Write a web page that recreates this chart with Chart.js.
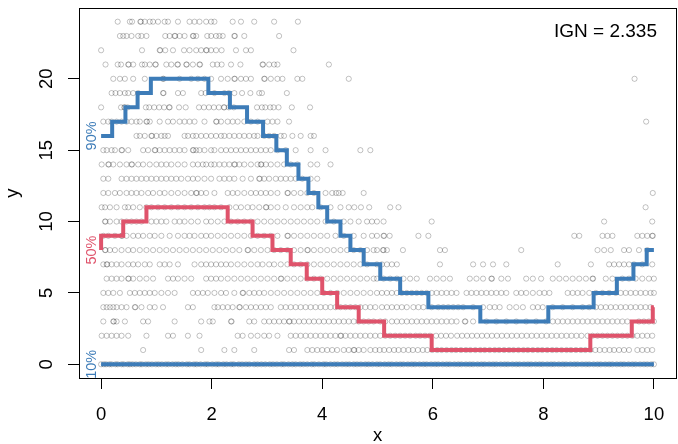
<!DOCTYPE html>
<html>
<head>
<meta charset="utf-8">
<script src="https://cdn.jsdelivr.net/npm/chart.js"></script>
<style>
  html, body { margin: 0; padding: 0; background: #fff; overflow: hidden; }
  #wrap { width: 681px; height: 444px; }
</style>
</head>
<body>
<div id="wrap"><canvas id="quantChart" width="681" height="444"></canvas></div>
<script>
// axis ticks
const xTicks = [0, 2, 4, 6, 8, 10];
const yTicks = [0, 5, 10, 15, 20];

// quantile step lines: x where each new level starts, and that level
const q90Breaks = [0, 0.2, 0.44, 0.66, 0.9, 1.94, 2.33, 2.64, 2.93, 3.17, 3.36, 3.57, 3.75, 3.93, 4.09, 4.33, 4.51, 4.75, 5.05, 5.41, 5.92, 6.86, 8.09, 8.91, 9.33, 9.63, 9.87, 10];
const q90Values = [16, 17, 18, 19, 20, 19, 18, 17, 16, 15, 14, 13, 12, 11, 10, 9, 8, 7, 6, 5, 4, 3, 4, 5, 6, 7, 8, 8];
const q50Breaks = [0, 0, 0.40, 0.82, 2.29, 2.74, 3.10, 3.43, 3.72, 4.00, 4.27, 4.66, 5.12, 5.98, 8.85, 9.60, 9.98, 10];
const q50Values = [8, 9, 10, 11, 10, 9, 8, 7, 6, 5, 4, 3, 2, 1, 2, 3, 4, 4];
const q10Breaks = [0, 10];
const q10Values = [0, 0];

const quantLabels = ['90%', '50%', '10%'];
const scoreText = 'IGN = 2.335';

// observations: x positions of the points at each count y = 0..24
const x0 = [0.00,0.05,0.09,0.15,0.19,0.26,0.30,0.37,0.41,0.48,0.52,0.57,0.63,0.70,0.74,0.81,0.86,0.92,0.99,1.04,1.10,1.17,1.22,1.29,1.35,1.40,1.47,1.55,1.60,1.68,1.73,1.80,1.88,1.93,2.01,2.08,2.13,2.21,2.27,2.35,2.40,2.49,2.55,2.62,2.68,2.77,2.83,2.90,2.97,3.05,3.11,3.18,3.26,3.31,3.39,3.46,3.52,3.60,3.66,3.73,3.81,3.86,3.94,4.02,4.07,4.15,4.22,4.28,4.36,4.43,4.49,4.57,4.63,4.70,4.78,4.84,4.91,4.99,5.05,5.13,5.20,5.26,5.34,5.41,5.47,5.55,5.62,5.68,5.76,5.83,5.89,5.97,6.04,6.10,6.18,6.25,6.31,6.39,6.46,6.52,6.60,6.67,6.73,6.81,6.88,6.94,7.02,7.09,7.15,7.23,7.30,7.36,7.44,7.51,7.57,7.65,7.72,7.78,7.86,7.93,7.99,8.07,8.14,8.20,8.28,8.35,8.41,8.49,8.56,8.62,8.70,8.77,8.83,8.91,8.98,9.04,9.12,9.19,9.25,9.33,9.40,9.46,9.54,9.61,9.67,9.75,9.82,9.88,9.95,10.00];
const x1 = [0.76,1.81,2.23,2.41,2.77,3.40,3.49,3.73,3.82,3.91,4.00,4.09,4.18,4.27,4.39,4.48,4.57,4.58,4.66,4.75,4.87,4.96,5.04,5.12,5.21,5.30,5.38,5.47,5.56,5.64,5.73,5.82,5.90,5.99,6.08,6.16,6.25,6.34,6.42,6.51,6.60,6.68,6.77,6.86,6.94,7.03,7.12,7.20,7.29,7.38,7.46,7.55,7.64,7.72,7.81,7.90,7.98,8.07,8.16,8.24,8.33,8.42,8.50,8.59,8.68,8.76,8.85,8.94,9.02,9.11,9.20,9.28,9.37,9.46,9.55,9.70,9.79,9.88,9.97];
const x2 = [0.01,0.10,0.19,0.28,0.37,0.49,0.82,1.21,1.30,1.57,1.78,2.47,2.56,2.71,2.83,2.95,3.04,3.19,3.43,3.52,3.61,3.70,3.79,3.88,3.97,4.06,4.15,4.24,4.33,4.34,4.42,4.51,4.60,4.69,4.78,4.87,4.96,5.05,5.14,5.23,5.32,5.41,5.50,5.59,5.69,5.77,5.86,5.95,6.06,6.15,6.24,6.33,6.44,6.53,6.62,6.71,6.80,6.89,6.98,7.07,7.16,7.25,7.34,7.43,7.52,7.61,7.70,7.79,7.88,7.97,8.06,8.15,8.24,8.33,8.42,8.51,8.60,8.69,8.80,8.89,8.98,9.07,9.16,9.25,9.34,9.43,9.52,9.61,9.70,9.79,9.88,9.97];
const x3 = [0.04,0.22,0.23,0.28,0.43,0.76,0.85,1.33,1.81,1.96,2.02,2.35,2.36,2.68,2.77,2.95,3.04,3.13,3.22,3.31,3.40,3.41,3.49,3.58,3.67,3.76,3.85,3.94,4.03,4.12,4.21,4.30,4.39,4.48,4.57,4.66,4.75,4.84,4.93,5.05,5.14,5.26,5.35,5.44,5.53,5.62,5.71,5.80,5.89,5.98,6.07,6.16,6.25,6.34,6.43,6.58,6.59,6.73,6.97,7.15,7.33,7.51,7.69,7.87,8.05,8.17,8.26,8.35,8.44,8.53,8.62,8.71,8.80,8.89,8.98,9.07,9.16,9.25,9.34,9.43,9.52,9.73,9.82,9.91,10.00];
const x4 = [0.04,0.10,0.16,0.22,0.28,0.37,0.46,0.61,0.62,0.73,0.88,0.97,1.12,1.57,1.66,2.05,2.11,2.20,2.29,2.38,2.50,2.51,2.62,2.71,2.80,2.89,2.98,3.07,3.25,3.34,3.43,3.52,3.61,3.70,3.79,3.88,3.97,4.06,4.15,4.24,4.33,4.42,4.51,4.60,4.69,4.78,4.87,4.96,5.08,5.17,5.26,5.35,5.44,5.53,5.65,5.74,5.83,5.98,6.10,6.19,6.28,6.37,6.46,6.55,6.73,6.91,7.03,7.12,7.21,7.39,7.51,7.63,7.81,7.90,7.99,8.17,8.35,8.53,8.71,8.83,8.95,9.04,9.13,9.22,9.31,9.40,9.49,9.58,9.67,9.76,9.85,9.94];
const x5 = [0.04,0.13,0.22,0.34,0.52,0.61,0.70,0.79,0.88,0.97,1.09,1.21,1.33,1.66,1.75,1.84,1.93,2.05,2.17,2.26,2.41,2.56,2.57,2.68,2.77,2.86,2.95,3.07,3.19,3.31,3.43,3.55,3.67,3.79,3.91,4.03,4.15,4.27,4.39,4.51,4.63,4.75,4.87,4.99,5.08,5.17,5.26,5.35,5.44,5.53,5.62,5.71,5.80,5.89,5.98,6.07,6.16,6.25,6.34,6.43,6.61,6.70,6.79,6.88,6.97,7.06,7.15,7.24,7.33,7.51,7.60,7.69,7.81,7.93,8.02,8.11,8.44,8.53,8.62,8.71,8.83,8.95,9.07,9.19,9.31,9.40,9.49,9.58,9.67,9.76,9.85,9.94,10.00];
const x6 = [0.10,0.19,0.28,0.37,0.49,0.50,0.58,0.70,0.82,0.94,1.21,1.30,1.39,1.51,1.63,1.90,1.99,2.08,2.17,2.29,2.41,2.53,2.65,2.77,2.89,3.01,3.13,3.25,3.26,3.37,3.49,3.61,3.73,3.85,3.97,4.09,4.21,4.33,4.45,4.57,4.69,4.81,4.93,4.99,5.11,5.23,5.35,5.47,5.59,5.71,5.95,6.07,6.19,6.31,6.67,6.79,6.91,7.06,7.07,7.24,7.36,7.69,7.81,7.96,8.17,8.29,8.41,8.53,8.65,8.77,8.89,8.90,9.13,9.25,9.43,9.55,9.67,9.79,9.91,10.00];
const x7 = [0.04,0.10,0.11,0.19,0.28,0.37,0.49,0.58,0.67,0.79,0.88,1.06,1.15,1.24,1.39,1.69,1.81,1.90,1.99,2.08,2.17,2.26,2.35,2.47,2.59,2.71,2.83,2.92,3.04,3.13,3.25,3.37,3.49,3.61,3.73,3.85,3.97,4.09,4.21,4.33,4.45,4.57,4.69,4.81,4.99,5.08,5.17,5.26,5.35,6.13,6.73,6.91,7.09,7.33,8.26,8.86,9.19,9.28,9.37,9.46,9.55,9.64,9.79,9.97];
const x8 = [0.07,0.08,0.16,0.25,0.37,0.49,0.58,0.70,0.82,0.94,1.06,1.18,1.30,1.42,1.54,1.66,1.78,1.90,2.02,2.14,2.26,2.38,2.50,2.65,2.66,2.77,2.89,3.01,3.13,3.25,3.37,3.49,3.61,3.73,3.74,3.85,3.97,4.09,4.21,4.33,4.45,4.57,4.69,4.81,4.93,4.99,5.10,5.11,5.17,5.46,6.13,6.22,7.60,8.98,9.10,9.22,9.46,9.55,9.73,9.88];
const x9 = [0.04,0.13,0.25,0.37,0.38,0.46,0.58,0.67,0.76,0.88,0.97,1.09,1.24,1.39,1.51,1.60,1.69,1.81,1.90,1.99,2.11,2.23,2.35,2.47,2.59,2.71,2.83,2.95,3.07,3.19,3.37,3.38,3.49,3.61,3.73,3.85,3.97,4.09,4.24,4.39,4.57,4.75,4.90,4.99,5.11,5.12,5.22,5.74,5.92,8.56,8.65,9.07,9.16,9.25,9.70,9.79,9.88,9.97,9.98];
const x10 = [0.07,0.08,0.16,0.28,0.37,0.46,0.55,0.64,0.73,0.91,1.00,1.09,1.18,1.33,1.42,1.51,1.63,1.75,1.90,1.99,2.11,2.23,2.35,2.47,2.59,2.71,2.83,2.95,3.07,3.19,3.31,3.43,3.55,3.67,3.79,3.91,4.06,4.21,4.39,4.51,4.66,4.81,4.90,4.99,5.11,5.98,9.10,9.97];
const x11 = [0.01,0.07,0.16,0.28,0.43,0.49,0.58,0.70,0.82,0.91,1.03,1.15,1.27,1.39,1.51,1.63,1.75,1.87,1.96,2.05,2.17,2.32,2.44,2.53,2.65,2.74,2.86,2.98,2.99,3.07,3.19,3.34,3.49,3.61,3.73,3.82,3.97,4.15,4.33,4.48,4.58,4.70,4.85,5.23,5.38,9.85];
const x12 = [0.04,0.13,0.25,0.34,0.46,0.55,0.64,0.73,0.85,0.94,1.06,1.15,1.27,1.39,1.51,1.63,1.72,1.73,1.81,1.90,2.05,2.29,2.38,2.47,2.59,2.71,2.80,2.89,2.98,3.07,3.19,3.37,3.38,3.49,3.61,3.73,3.85,4.06,4.18,4.25,4.30,4.37,4.75,9.98];
const x13 = [0.04,0.13,0.37,0.46,0.55,0.64,0.73,0.82,0.91,1.00,1.09,1.18,1.27,1.36,1.45,1.57,1.66,1.75,1.87,1.99,2.14,2.23,2.32,2.41,2.56,2.71,2.86,2.87,2.95,3.04,3.16,3.25,3.34,3.43,3.52,3.64,3.79,3.91];
const x14 = [0.01,0.13,0.14,0.22,0.34,0.46,0.55,0.56,0.67,0.76,0.88,1.00,1.09,1.18,1.27,1.39,1.51,1.66,1.75,1.84,1.90,1.99,2.05,2.14,2.23,2.32,2.41,2.42,2.50,2.59,2.71,2.83,2.89,2.90,2.98,3.07,3.19,3.31,3.43,3.55,3.79,3.91,4.15];
const x15 = [0.04,0.10,0.19,0.25,0.37,0.38,0.49,0.76,0.85,0.97,0.98,1.06,1.15,1.24,1.33,1.42,1.51,1.66,1.67,1.72,1.78,1.87,1.99,2.05,2.17,2.26,2.35,2.44,2.53,2.62,2.71,2.80,2.89,2.98,3.07,3.19,3.34,3.52,3.79,4.06,4.69,4.87];
const x16 = [0.64,0.70,0.79,0.91,0.92,1.00,1.09,1.15,1.21,1.51,1.57,1.66,1.72,1.81,1.90,1.99,2.08,2.17,2.23,2.32,2.41,2.50,2.59,2.68,2.77,2.83,2.95,3.04,3.13,3.25,3.31,3.46,3.61,3.79,3.85];
const x17 = [0.04,0.13,0.19,0.28,0.37,0.46,0.55,0.64,0.70,0.82,0.83,0.88,1.06,1.21,1.30,1.42,1.51,1.60,1.69,1.87,2.08,2.09,2.17,2.29,2.38,2.47,2.59,2.71,2.83,3.01,3.10,3.19,3.40,9.86];
const x18 = [0.00,0.36,0.42,0.43,0.48,0.81,0.87,0.96,1.05,1.14,1.23,1.24,1.41,1.53,1.77,1.86,1.95,2.04,2.13,2.22,2.23,2.31,2.40,2.82,2.91,2.97,3.06,3.12,3.21,3.45,3.78];
const x19 = [0.19,0.26,0.34,0.43,0.49,0.58,0.67,1.12,1.13,1.39,1.48,1.81,1.89,2.05,2.23,2.31,2.41,2.55,2.70,2.86,2.91,3.36];
const x20 = [0.22,0.34,0.43,0.58,0.79,1.12,1.13,1.42,1.63,1.75,1.87,1.99,2.17,2.29,2.41,2.42,2.53,2.62,2.71,2.95,2.96,3.07,3.19,3.28,3.55,3.64,4.48,9.65];
const x21 = [0.08,0.30,0.36,0.49,0.50,0.58,0.74,0.79,0.88,0.98,0.99,1.18,1.27,1.38,1.39,1.54,1.55,1.66,1.78,1.79,2.02,2.10,2.18,2.35,2.52,2.92,2.93,3.04,3.13,3.19,4.12];
const x22 = [0.00,0.74,1.06,1.07,1.16,1.30,1.50,1.60,1.72,1.81,1.90,1.91,1.99,2.08,2.18,2.44,2.62,2.71,3.48];
const x23 = [0.34,0.40,0.46,0.55,0.67,0.73,0.82,1.16,1.24,1.33,1.34,1.42,1.51,1.66,1.67,1.72,1.92,1.99,2.08,2.14,2.20,2.41,2.42,2.59,3.22];
const x24 = [0.30,0.52,0.56,0.71,0.72,0.79,0.88,0.94,1.03,1.15,1.21,1.39,1.60,1.69,1.78,1.90,1.99,2.05,2.38,2.53,2.77,3.13,3.56];

const obsRows = [x0, x1, x2, x3, x4, x5, x6, x7, x8, x9, x10, x11, x12, x13, x14, x15, x16, x17, x18, x19, x20, x21, x22, x23, x24];

const BLUE = '#3d7cb8';
const RED = '#df536b';
const FONT = '"Liberation Sans", Arial, Helvetica, sans-serif';

const toPoints = (xs, ys) => xs.map((x, i) => ({ x: x, y: ys[i] }));
const obsPoints = obsRows.flatMap((xs, count) => xs.map(x => ({ x: x, y: count })));

const stepLine = (xs, ys, color) => ({
  type: 'line',
  data: toPoints(xs, ys),
  stepped: 'before',
  borderColor: color,
  borderWidth: 4,
  borderCapStyle: 'butt',
  borderJoinStyle: 'miter',
  pointRadius: 0,
  fill: false,
  order: 0,
});

// R-style box, tick labels, titles and annotations
const rDecor = {
  id: 'rDecor',
  afterDraw(chart) {
    const { ctx, chartArea: a, scales } = chart;
    const xs = scales.x, ys = scales.y;
    ctx.save();
    ctx.strokeStyle = '#000';
    ctx.lineWidth = 1;
    ctx.strokeRect(a.left + 0.5, a.top + 0.5, a.right - a.left, a.bottom - a.top);

    ctx.fillStyle = '#000';
    ctx.font = '18.5px ' + FONT;
    ctx.textAlign = 'center';
    ctx.textBaseline = 'alphabetic';
    xTicks.forEach(v => ctx.fillText(String(v), xs.getPixelForValue(v), 420));
    yTicks.forEach(v => {
      ctx.save();
      ctx.translate(52, ys.getPixelForValue(v));
      ctx.rotate(-Math.PI / 2);
      ctx.fillText(String(v), 0, 0);
      ctx.restore();
    });

    // axis titles
    ctx.fillText('x', (a.left + a.right) / 2, 441);
    ctx.save();
    ctx.translate(17.5, (a.top + a.bottom) / 2);
    ctx.rotate(-Math.PI / 2);
    ctx.fillText('y', 0, 0);
    ctx.restore();

    // score
    ctx.font = '19px ' + FONT;
    ctx.textAlign = 'right';
    ctx.fillText(scoreText, 657, 37);

    // quantile labels at the start of each line
    const starts = [q90Values[0], q50Values[0], q10Values[0]];
    const cols = [BLUE, RED, BLUE];
    ctx.font = '14.5px ' + FONT;
    ctx.textAlign = 'center';
    quantLabels.forEach((lab, i) => {
      ctx.save();
      ctx.translate(xs.getPixelForValue(0) - 5.5, ys.getPixelForValue(starts[i]));
      ctx.rotate(-Math.PI / 2);
      ctx.fillStyle = cols[i];
      ctx.fillText(lab, 0, 0);
      ctx.restore();
    });
    ctx.restore();
  }
};

new Chart(document.getElementById('quantChart'), {
  type: 'scatter',
  data: {
    datasets: [
      stepLine(q90Breaks, q90Values, BLUE),
      stepLine(q50Breaks, q50Values, RED),
      stepLine(q10Breaks, q10Values, BLUE),
      {
        type: 'scatter',
        data: obsPoints,
        pointStyle: 'circle',
        pointRadius: 2.6,
        pointBorderWidth: 1,
        pointBorderColor: 'rgba(0,0,0,0.24)',
        pointBackgroundColor: 'rgba(0,0,0,0)',
        order: 1,
      },
    ],
  },
  options: {
    responsive: false,
    animation: false,
    devicePixelRatio: 1,
    events: [],
    layout: { padding: { top: 8, left: 0, right: 0, bottom: 0 } },
    plugins: { legend: { display: false }, tooltip: { enabled: false } },
    scales: {
      x: {
        type: 'linear',
        min: -0.4,
        max: 10.4,
        afterBuildTicks: s => { s.ticks = xTicks.map(v => ({ value: v })); },
        afterFit: s => { s.height = 66; },
        ticks: { display: false },
        grid: { display: true, drawOnChartArea: false, drawTicks: true, tickLength: 11, color: '#000', lineWidth: 1 },
        border: { display: false },
      },
      y: {
        type: 'linear',
        min: -0.96,
        max: 24.96,
        afterBuildTicks: s => { s.ticks = yTicks.map(v => ({ value: v })); },
        afterFit: s => { s.width = 79; },
        ticks: { display: false },
        grid: { display: true, drawOnChartArea: false, drawTicks: true, tickLength: 11, color: '#000', lineWidth: 1 },
        border: { display: false },
      },
    },
  },
  plugins: [rDecor],
});
</script>
</body>
</html>
